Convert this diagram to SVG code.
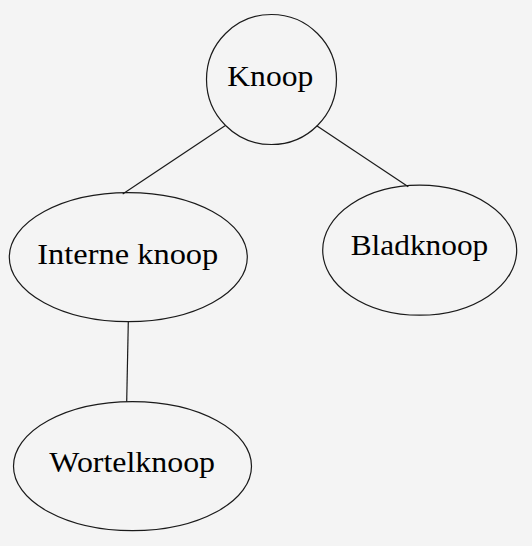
<svg xmlns="http://www.w3.org/2000/svg" width="532" height="546" viewBox="0 0 532 546">
<style>
.n{fill:none;stroke:#1a1a1a;stroke-width:1.2}
.t{font-family:"Liberation Serif","Times New Roman",serif;font-size:29px;fill:#000;text-anchor:middle}
.c{stroke:#1a1a1a;stroke-width:1.2;fill:none}
</style>
<rect width="532" height="546" fill="#f4f4f4"/>
<g id="connectors">
<line class="c" x1="225" y1="125.7" x2="122.7" y2="194"/>
<line class="c" x1="316.7" y1="125.7" x2="408.3" y2="186.7"/>
<line class="c" x1="128.3" y1="321.7" x2="126.7" y2="401.7"/>
</g>
<g id="knoop">
<circle class="n" cx="271.5" cy="79.5" r="65"/>
<text class="t" x="270.3" y="86" textLength="86" lengthAdjust="spacingAndGlyphs">Knoop</text>
</g>
<g id="interne-knoop">
<ellipse class="n" cx="128.3" cy="257.2" rx="119" ry="64.5"/>
<text class="t" x="127.8" y="264" textLength="181" lengthAdjust="spacingAndGlyphs">Interne knoop</text>
</g>
<g id="bladknoop">
<ellipse class="n" cx="419.7" cy="250.2" rx="97" ry="65"/>
<text class="t" x="419.5" y="255" textLength="137.6" lengthAdjust="spacingAndGlyphs">Bladknoop</text>
</g>
<g id="wortelknoop">
<ellipse class="n" cx="132.5" cy="466.2" rx="119" ry="64.5"/>
<text class="t" x="132.2" y="471.7" textLength="165.7" lengthAdjust="spacingAndGlyphs">Wortelknoop</text>
</g>
</svg>
